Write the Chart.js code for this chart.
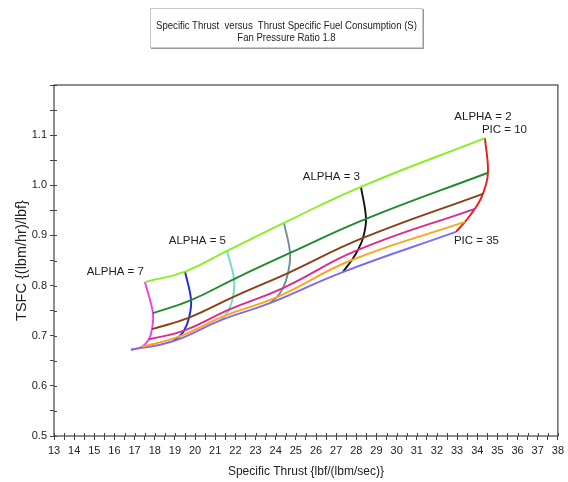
<!DOCTYPE html>
<html>
<head>
<meta charset="utf-8">
<script src="https://cdn.jsdelivr.net/npm/chart.js@4"></script>
<style>
  html, body { margin: 0; padding: 0; background: #fff; }
  #wrap { position: relative; width: 568px; height: 482px; }
  #box {
    position: absolute; left: 150px; top: 8px; width: 273px; height: 40px;
    border: 1px solid #c8c8c8; box-shadow: 1px 1px 0 #999;
    font-family: "Liberation Sans", Arial, sans-serif;
    font-size: 11px; line-height: 12px; color: #222; text-align: center;
    box-sizing: border-box; padding-top: 10px; background: #fff; z-index: 2;
  }
  #box .ln { white-space: nowrap; margin: 0 -60px; transform: scaleX(0.87); transform-origin: center; }
  canvas { position: absolute; left: 0; top: 0; }
</style>
</head>
<body>
<div id="wrap">
  <canvas id="c" width="568" height="482"></canvas>
  <div id="box">
    <div class="ln">Specific Thrust&nbsp; versus&nbsp; Thrust Specific Fuel Consumption (S)</div>
    <div class="ln">Fan Pressure Ratio 1.8</div>
  </div>
</div>
<script>
// bypass ratio (columns) and compressor pressure ratio (rows)
const alphas = [7, 6, 5, 4, 3, 2];
const pics = [10, 15, 20, 25, 30, 35];

// specific thrust, one row per PIC, columns follow alphas
const thrust = [
  [17.51, 19.50, 21.58, 24.41, 28.23, 34.38],
  [17.91, 19.80, 21.93, 24.71, 28.48, 34.53],
  [17.86, 19.70, 21.88, 24.61, 28.33, 34.28],
  [17.71, 19.45, 21.68, 24.36, 28.08, 33.88],
  [17.37, 19.20, 21.48, 24.06, 27.78, 33.39],
  [16.82, 18.90, 21.28, 23.71, 27.33, 32.94]
];

// TSFC, same layout
const tsfc = [
  [0.807, 0.828, 0.869, 0.925, 0.997, 1.094],
  [0.745, 0.771, 0.813, 0.865, 0.933, 1.025],
  [0.713, 0.736, 0.777, 0.825, 0.895, 0.983],
  [0.693, 0.710, 0.752, 0.795, 0.871, 0.953],
  [0.678, 0.698, 0.740, 0.777, 0.851, 0.927],
  [0.672, 0.689, 0.731, 0.765, 0.827, 0.907]
];

const picColors = ['#8aee22', '#1f8a2e', '#8b3f14', '#de2a8a', '#ffa31a', '#7d6cf0'];
const alphaColors = ['#f03cf0', '#1a2ad8', '#6fdcc8', '#6f8f98', '#111111', '#f01818'];

const datasets = [];
pics.forEach((p, i) => {
  datasets.push({
    label: 'PIC = ' + p,
    data: alphas.map((a, j) => ({ x: thrust[i][j], y: tsfc[i][j] })),
    borderColor: picColors[i], borderWidth: 1.9, tension: 0.45
  });
});
alphas.forEach((a, j) => {
  datasets.push({
    label: 'ALPHA = ' + a,
    data: pics.map((p, i) => ({ x: thrust[i][j], y: tsfc[i][j] })),
    borderColor: alphaColors[j], borderWidth: 1.9, tension: 0.4
  });
});

const labelFont = '11.5px "Liberation Sans", Arial, sans-serif';
const tickFont = { family: '"Liberation Sans", Arial, sans-serif', size: 11 };

// frame round the plot + tick marks crossing the axes
const framePlugin = {
  id: 'frame',
  afterDraw(chart) {
    const { ctx, chartArea: a, scales: { x, y } } = chart;
    ctx.save();
    ctx.strokeStyle = '#444';
    ctx.lineWidth = 1.2;
    ctx.strokeRect(a.left, a.top, a.right - a.left, a.bottom - a.top);
    ctx.lineWidth = 1;
    ctx.beginPath();
    x.ticks.forEach(t => {
      const px = Math.round(x.getPixelForValue(t.value)) + 0.5;
      ctx.moveTo(px, a.bottom); ctx.lineTo(px, a.bottom - 3);
    });
    y.ticks.forEach(t => {
      const py = Math.round(y.getPixelForValue(t.value)) + 0.5;
      ctx.moveTo(a.left, py); ctx.lineTo(a.left + 3, py);
    });
    ctx.stroke();
    ctx.restore();
  }
};

// ALPHA / PIC annotations next to the curve ends
const notePlugin = {
  id: 'notes',
  afterDatasetsDraw(chart) {
    const { ctx, scales: { x, y } } = chart;
    const px = (i, j) => x.getPixelForValue(thrust[i][j]);
    const py = (i, j) => y.getPixelForValue(tsfc[i][j]);
    ctx.save();
    ctx.font = labelFont;
    ctx.fillStyle = '#222';
    ctx.textBaseline = 'middle';
    ctx.textAlign = 'right';
    [0, 2, 4].forEach(j => ctx.fillText('ALPHA = ' + alphas[j], px(0, j) - 1, py(0, j) - 10));
    ctx.textAlign = 'center';
    ctx.fillText('ALPHA = ' + alphas[5], px(0, 5) - 2, py(0, 5) - 21);
    ctx.textAlign = 'left';
    ctx.fillText('PIC = ' + pics[0], px(0, 5) - 3, py(0, 5) - 8);
    ctx.fillText('PIC = ' + pics[5], px(5, 5) - 2, py(5, 5) + 9);
    ctx.restore();
  }
};

const isTenth = v => Math.abs(v * 10 - Math.round(v * 10)) < 1e-6;

new Chart(document.getElementById('c'), {
  type: 'scatter',
  data: { datasets },
  options: {
    responsive: false,
    animation: false,
    events: [],
    showLine: true,
    elements: { point: { radius: 0 } },
    layout: { padding: { top: 85, right: 10, left: 0, bottom: 0 } },
    plugins: { legend: { display: false }, tooltip: { enabled: false } },
    scales: {
      x: {
        type: 'linear', min: 13, max: 38,
        afterFit: s => { s.height = 46; },
        border: { display: false },
        grid: { drawOnChartArea: false, drawTicks: true, tickLength: 4, color: '#444' },
        ticks: {
          stepSize: 0.5, padding: 4, color: '#222', font: tickFont, maxRotation: 0, autoSkip: false,
          callback: v => Number.isInteger(v) ? String(v) : ''
        },
        title: {
          display: true, text: 'Specific Thrust {lbf/(lbm/sec)}', color: '#222',
          font: { family: '"Liberation Sans", Arial, sans-serif', size: 12 },
          padding: { top: 0, bottom: 3 }
        }
      },
      y: {
        type: 'linear', min: 0.5, max: 1.2,
        afterFit: s => { s.width = 54; },
        border: { display: false },
        grid: { drawOnChartArea: false, drawTicks: true, tickLength: 4, color: '#444' },
        ticks: {
          stepSize: 0.05, padding: 3, color: '#222', font: tickFont, autoSkip: false,
          callback: v => (isTenth(v) && v < 1.15) ? v.toFixed(1) : ''
        },
        title: {
          display: true, text: 'TSFC {(lbm/hr)/lbf}', color: '#222',
          font: { family: '"Liberation Sans", Arial, sans-serif', size: 14.5 },
          padding: { top: 13, bottom: 0 }
        }
      }
    }
  },
  plugins: [framePlugin, notePlugin]
});
</script>
</body>
</html>
